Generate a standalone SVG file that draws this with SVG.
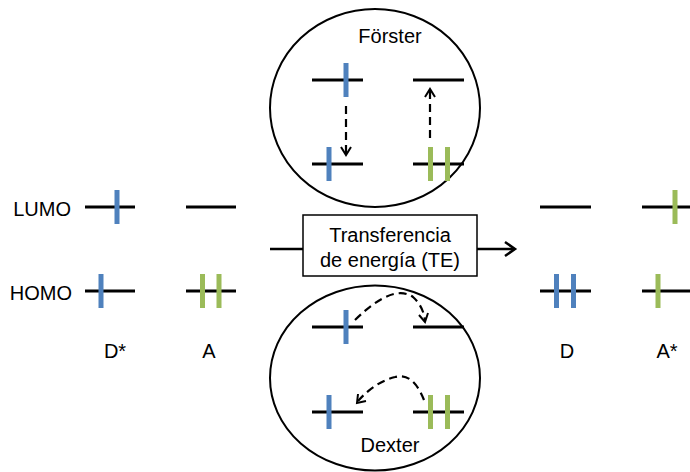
<svg xmlns="http://www.w3.org/2000/svg" width="690" height="472" viewBox="0 0 690 472">
<defs>
<style>
.t{font-family:"Liberation Sans",Arial,sans-serif;font-size:20px;fill:#000}
.lv{stroke:#000;stroke-width:3;fill:none}
.b{fill:#4F81BD}
.g{fill:#9BBB59}
.el{fill:none;stroke:#000;stroke-width:2}
.da{fill:none;stroke:#000;stroke-width:2.2;stroke-dasharray:8,5}
.ah{fill:none;stroke:#000;stroke-width:2}
</style>
</defs>
<rect width="690" height="472" fill="#fff"/>
<g id="labels">
<text class="t" x="71" y="216" text-anchor="end">LUMO</text>
<text class="t" x="72" y="300" text-anchor="end">HOMO</text>
<text class="t" x="115" y="358" text-anchor="middle">D*</text>
<text class="t" x="209" y="358" text-anchor="middle">A</text>
<text class="t" x="567" y="358" text-anchor="middle">D</text>
<text class="t" x="667" y="358" text-anchor="middle">A*</text>
</g>
<g id="donor-excited">
<line class="lv" x1="85" y1="207" x2="135" y2="207"/>
<rect class="b" x="114.5" y="190" width="5" height="34"/>
<line class="lv" x1="85" y1="291" x2="135" y2="291"/>
<rect class="b" x="98.5" y="274" width="5" height="34"/>
</g>
<g id="acceptor">
<line class="lv" x1="186" y1="207" x2="236" y2="207"/>
<line class="lv" x1="186" y1="291" x2="236" y2="291"/>
<rect class="g" x="200" y="274" width="5" height="34"/>
<rect class="g" x="216.5" y="274" width="5" height="34"/>
</g>
<g id="donor">
<line class="lv" x1="540" y1="207" x2="591" y2="207"/>
<line class="lv" x1="540" y1="291" x2="591" y2="291"/>
<rect class="b" x="554" y="274" width="5" height="34"/>
<rect class="b" x="571" y="274" width="5" height="34"/>
</g>
<g id="acceptor-excited">
<line class="lv" x1="642" y1="207" x2="692" y2="207"/>
<rect class="g" x="672.5" y="190" width="5" height="34"/>
<line class="lv" x1="642" y1="291" x2="692" y2="291"/>
<rect class="g" x="655.5" y="274" width="5" height="34"/>
</g>
<g id="forster">
<ellipse class="el" cx="375" cy="108" rx="105" ry="99"/>
<text class="t" x="390" y="43" text-anchor="middle">Förster</text>
<line class="lv" x1="312" y1="80" x2="363" y2="80"/>
<rect class="b" x="343.5" y="63" width="5" height="34"/>
<line class="lv" x1="413" y1="80" x2="464" y2="80"/>
<line class="lv" x1="312" y1="164" x2="363" y2="164"/>
<rect class="b" x="326.5" y="147" width="5" height="34"/>
<line class="lv" x1="413" y1="164" x2="464" y2="164"/>
<rect class="g" x="428" y="147" width="5" height="34"/>
<rect class="g" x="445" y="147" width="5" height="34"/>
</g>
<g id="te-box">
<rect x="303" y="215" width="174" height="61" fill="#fff" stroke="#000" stroke-width="1.5"/>
<text class="t" x="390" y="242" text-anchor="middle">Transferencia</text>
<text class="t" x="390" y="267" text-anchor="middle">de energía (TE)</text>
</g>
<g id="dexter">
<ellipse class="el" cx="375" cy="378" rx="105" ry="92.5"/>
<text class="t" x="390" y="452" text-anchor="middle">Dexter</text>
<line class="lv" x1="312" y1="327" x2="363" y2="327"/>
<rect class="b" x="343.5" y="310" width="5" height="34"/>
<line class="lv" x1="413" y1="327" x2="464" y2="327"/>
<line class="lv" x1="312" y1="412" x2="363" y2="412"/>
<rect class="b" x="326.5" y="395" width="5" height="34"/>
<line class="lv" x1="413" y1="412" x2="464" y2="412"/>
<rect class="g" x="428" y="395" width="5" height="34"/>
<rect class="g" x="445" y="395" width="5" height="34"/>
</g>
<g id="connectors">
<path class="da" d="M346 106 V153"/>
<path class="ah" d="M341 147 L346 155 L351 147"/>
<path class="da" d="M430 138 V91"/>
<path class="ah" d="M425 97 L430 89 L435 97"/>
<path class="da" d="M355 320 Q393 283 413 297 Q423 306 425 320"/>
<path class="ah" d="M419 315 L425 322 L428 313"/>
<path class="da" d="M424 400 Q413 372 395 377 Q375 382 358 401"/>
<path class="ah" d="M358 394 L357 403 L366 401"/>
<line x1="270" y1="249" x2="303" y2="249" stroke="#000" stroke-width="2.5"/>
<line x1="477" y1="249" x2="514" y2="249" stroke="#000" stroke-width="2.5"/>
<path d="M505 242 L515 249 L505 256" fill="none" stroke="#000" stroke-width="2.5"/>
</g>
</svg>
